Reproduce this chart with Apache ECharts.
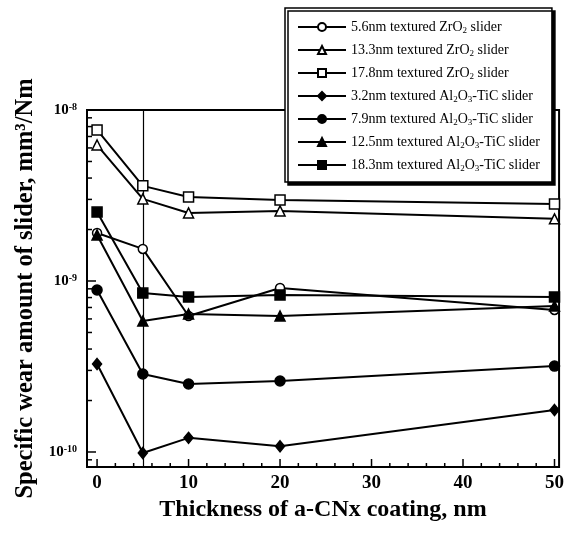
<!DOCTYPE html>
<html>
<head>
<meta charset="utf-8">
<script src="https://cdn.jsdelivr.net/npm/echarts@6/dist/echarts.min.js"></script>
<style>
  html, body { margin: 0; padding: 0; background: #fff; }
  #chart { width: 567px; height: 535px; }
</style>
</head>
<body>
<div id="chart"></div>
<script>
//--------------------- Data ---------------------------//
const thickness = [0, 5, 10, 20, 50]; // a-CNx coating, nm

// specific wear amount, mm3/Nm
const zro2_56 = [1.91e-9, 1.54e-9, 6.24e-10, 9.1e-10, 6.77e-10];
const zro2_133 = [6.24e-9, 3.02e-9, 2.5e-9, 2.57e-9, 2.31e-9];
const zro2_178 = [7.64e-9, 3.6e-9, 3.1e-9, 2.98e-9, 2.82e-9];
const altic_32 = [3.27e-10, 9.87e-11, 1.21e-10, 1.08e-10, 1.76e-10];
const altic_79 = [8.86e-10, 2.86e-10, 2.5e-10, 2.6e-10, 3.18e-10];
const altic_125 = [1.86e-9, 5.83e-10, 6.41e-10, 6.24e-10, 7.14e-10];
const altic_183 = [2.53e-9, 8.5e-10, 8.06e-10, 8.28e-10, 8.06e-10];

const seriesNames = [
  '5.6nm textured ZrO2 slider',
  '13.3nm textured ZrO2 slider',
  '17.8nm textured ZrO2 slider',
  '3.2nm textured Al2O3-TiC slider',
  '7.9nm textured Al2O3-TiC slider',
  '12.5nm textured Al2O3-TiC slider',
  '18.3nm textured Al2O3-TiC slider',
];

// axis ranges and ticks
const xRange = [-1.1, 50.5];
const yRange = [8.17e-11, 1e-8];
const xMajorTicks = [0, 10, 20, 30, 40, 50];
const xMinorTicks = [2, 4, 6, 8, 12, 14, 16, 18, 22, 24, 26, 28, 32, 34, 36, 38, 42, 44, 46, 48];
const yMajorTicks = [1e-10, 1e-9];
const yMinorTicks = [9e-11, 2e-10, 3e-10, 4e-10, 5e-10, 6e-10, 7e-10, 8e-10, 9e-10,
  2e-9, 3e-9, 4e-9, 5e-9, 6e-9, 7e-9, 8e-9, 9e-9];
const refLineX = 5;

//--------------------- Helpers ---------------------------//
const serif = "'Liberation Serif', 'DejaVu Serif', serif";

function toPairs(values) {
  return thickness.map((t, i) => [t, values[i]]);
}

// turn "ZrO2" / "Al2O3" into rich text with subscripts
function legendText(name) {
  return name
    .replace('ZrO2', 'ZrO{s|2}')
    .replace('Al2O3', 'Al{s|2}O{s|3}');
}

function makeSeries(name, values, symbol, filled, size) {
  return {
    name: name,
    type: 'line',
    data: toPairs(values),
    symbol: symbol,
    symbolSize: size,
    showAllSymbol: true,
    lineStyle: { color: '#000', width: 2 },
    itemStyle: { color: filled ? '#000' : '#fff', borderColor: '#000', borderWidth: 1.5 },
    z: 3,
  };
}

// ticks drawn inward, built from the tick arrays
const tickData = []
  .concat(xMajorTicks.map(v => [v, yRange[0], 0]))
  .concat(xMinorTicks.map(v => [v, yRange[0], 1]))
  .concat(yMajorTicks.map(v => [xRange[0], v, 2]))
  .concat(yMinorTicks.map(v => [xRange[0], v, 3]));

function renderTick(params, api) {
  const kind = api.value(2);
  const p = api.coord([api.value(0), api.value(1)]);
  const cs = params.coordSys;
  let shape;
  if (kind < 2) {
    const len = kind === 0 ? 8 : 4;
    shape = { x1: p[0], y1: cs.y + cs.height, x2: p[0], y2: cs.y + cs.height - len };
  } else {
    const len = kind === 2 ? 9 : 5;
    shape = { x1: cs.x, y1: p[1], x2: cs.x + len, y2: p[1] };
  }
  return { type: 'line', shape: shape, style: { stroke: '#000', lineWidth: 1.5 } };
}

//--------------------- Chart ---------------------------//
const chart = echarts.init(document.getElementById('chart'));

const lineSeries = [
  makeSeries(seriesNames[0], zro2_56, 'circle', false, 9),
  makeSeries(seriesNames[1], zro2_133, 'triangle', false, 10),
  makeSeries(seriesNames[2], zro2_178, 'rect', false, 10),
  makeSeries(seriesNames[3], altic_32, 'diamond', true, [9, 11]),
  makeSeries(seriesNames[4], altic_79, 'circle', true, 10),
  makeSeries(seriesNames[5], altic_125, 'triangle', true, 10),
  makeSeries(seriesNames[6], altic_183, 'rect', true, 10),
];

// thin vertical reference line at 5 nm
lineSeries[0].markLine = {
  silent: true,
  symbol: 'none',
  label: { show: false },
  lineStyle: { color: '#000', width: 1.2, type: 'solid' },
  data: [{ xAxis: refLineX }],
  z: 1,
};

const option = {
  animation: false,
  backgroundColor: '#fff',
  grid: {
    left: 87, right: 5, top: 110, bottom: 68,
    show: true, borderColor: '#000', borderWidth: 2,
  },
  legend: {
    data: seriesNames,
    orient: 'vertical',
    left: 285,
    top: 8,
    padding: [11, 12, 9, 12],
    itemWidth: 48,
    itemHeight: 10,
    itemGap: 7,
    backgroundColor: '#fff',
    borderColor: '#000',
    borderWidth: 1.5,
    shadowColor: '#000',
    shadowBlur: 0,
    shadowOffsetX: 3,
    shadowOffsetY: 3,
    formatter: legendText,
    textStyle: {
      fontFamily: serif, fontSize: 14, color: '#000', lineHeight: 16,
      rich: {
        s: { fontFamily: serif, fontSize: 9, color: '#000', verticalAlign: 'bottom', lineHeight: 10 },
      },
    },
    z: 10,
  },
  xAxis: {
    type: 'value',
    min: xRange[0],
    max: xRange[1],
    name: 'Thickness of a-CNx coating, nm',
    nameLocation: 'middle',
    nameGap: 30,
    nameTextStyle: { fontFamily: serif, fontSize: 24, fontWeight: 'bold', color: '#000' },
    axisLine: { onZero: false, lineStyle: { color: '#000', width: 2 } },
    axisTick: { show: false },
    splitLine: { show: false },
    axisLabel: {
      margin: 7,
      fontFamily: serif, fontSize: 19, fontWeight: 'bold', color: '#000',
      formatter: v => xMajorTicks.includes(v) ? String(v) : '',
    },
  },
  yAxis: {
    type: 'log',
    logBase: 10,
    min: yRange[0],
    max: yRange[1],
    name: 'Specific wear amount of slider, mm³/Nm',
    nameLocation: 'middle',
    nameGap: 42,
    nameTextStyle: { fontFamily: serif, fontSize: 24.5, fontWeight: 'bold', color: '#000' },
    axisLine: { onZero: false, lineStyle: { color: '#000', width: 2 } },
    axisTick: { show: false },
    splitLine: { show: false },
    axisLabel: {
      margin: 10,
      formatter: v => {
        const e = Math.log10(v);
        if (Math.abs(e - Math.round(e)) > 1e-6) return '';
        return '{b|10}{s|' + Math.round(e) + '}';
      },
      rich: {
        b: { fontFamily: serif, fontSize: 15, fontWeight: 'bold', color: '#000' },
        s: { fontFamily: serif, fontSize: 10, fontWeight: 'bold', color: '#000', verticalAlign: 'top' },
      },
    },
  },
  series: lineSeries.concat([{
    type: 'custom',
    silent: true,
    renderItem: renderTick,
    data: tickData,
    encode: { x: 0, y: 1 },
    clip: false,
    z: 2,
  }]),
};

chart.setOption(option);
</script>
</body>
</html>
